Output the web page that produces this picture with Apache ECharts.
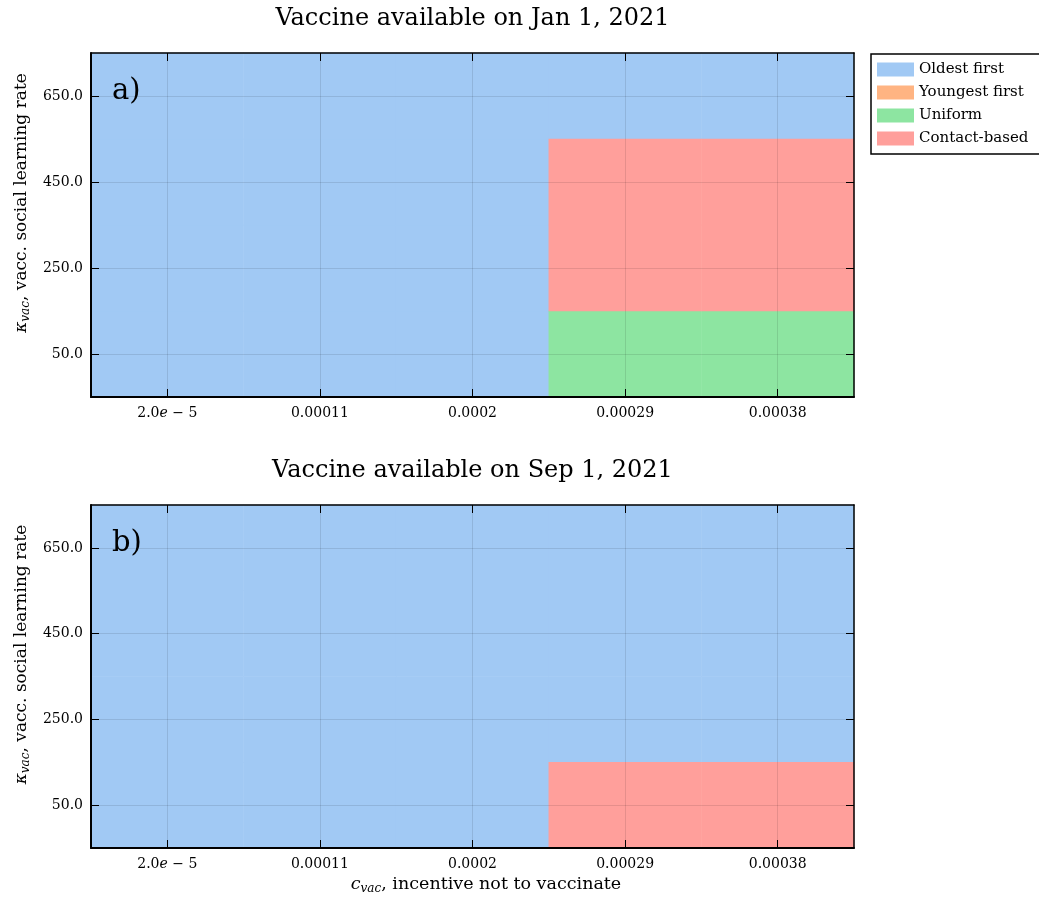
<!DOCTYPE html>
<html><head><meta charset="utf-8">
<script src="https://cdn.jsdelivr.net/npm/echarts@6/dist/echarts.min.js"></script>
<style>html,body{margin:0;padding:0;background:#fff}#c{width:1039px;height:908px}</style>
</head><body><div id="c"></div>
<script>
const xCats = ['2.0e-5','0.00011','0.0002','0.00029','0.00038'];
const yCats = ['50.0','250.0','450.0','650.0'];
const strategies = ['Oldest first','Youngest first','Uniform','Contact-based'];
const strategyColors = ['#a1c9f4','#ffb482','#8de5a1','#ff9f9b'];
const panelTitles = ['Vaccine available on Jan 1, 2021','Vaccine available on Sep 1, 2021'];
const panelLetters = ['a)','b)'];
// best strategy index; rows follow yCats (bottom to top), columns follow xCats
const panelA = [[0,0,0,2,2],[0,0,0,3,3],[0,0,0,3,3],[0,0,0,0,0]];
const panelB = [[0,0,0,3,3],[0,0,0,0,0],[0,0,0,0,0],[0,0,0,0,0]];
const panels = [panelA, panelB];

const FONT = 'DejaVu Serif';
const grids = [
  {left: 91, top: 53, width: 763, height: 344},
  {left: 91, top: 505, width: 763, height: 343}
];

const xAxes = [], yAxes = [], series = [], graphics = [];
grids.forEach((g, p) => {
  const last = p === grids.length - 1;
  xAxes.push({
    type: 'category', data: xCats, gridIndex: p, position: 'bottom', z: 10,
    axisLine: {show: true, lineStyle: {color: '#000', width: 2}},
    axisTick: {show: true, inside: true, length: 8, alignWithLabel: true, lineStyle: {color: '#000', width: 1}},
    axisLabel: {
      margin: 9, color: '#000', fontFamily: FONT, fontSize: 14,
      formatter: v => v.indexOf('e-') >= 0 ? v.replace('e-', '{i|e} − ') : v,
      rich: {i: {fontStyle: 'italic', fontFamily: FONT, fontSize: 14, color: '#000'}}
    },
    splitLine: {show: false},
    name: last ? '{c|c}{s|vac}{n|, incentive not to vaccinate}' : '',
    nameLocation: 'middle', nameGap: 26,
    nameTextStyle: {
      fontFamily: FONT, fontSize: 17.5, color: '#000', padding: [0, 0, 0, 27],
      rich: {
        c: {fontFamily: FONT, fontSize: 17.5, fontStyle: 'italic', color: '#000', lineHeight: 21},
        s: {fontFamily: FONT, fontSize: 12, fontStyle: 'italic', color: '#000', lineHeight: 8, verticalAlign: 'bottom'},
        n: {fontFamily: FONT, fontSize: 17.5, color: '#000', lineHeight: 21}
      }
    }
  });
  xAxes.push({
    type: 'category', data: xCats, gridIndex: p, position: 'top', z: 10,
    axisLine: {show: true, lineStyle: {color: '#000', width: 1.5}},
    axisTick: {show: true, inside: true, length: 8, alignWithLabel: true, lineStyle: {color: '#000', width: 1}},
    axisLabel: {show: false}, splitLine: {show: false}
  });
  yAxes.push({
    type: 'category', data: yCats, gridIndex: p, position: 'left', z: 10,
    axisLine: {show: true, lineStyle: {color: '#000', width: 2}},
    axisTick: {show: true, inside: true, length: 8, alignWithLabel: true, lineStyle: {color: '#000', width: 1}},
    axisLabel: {margin: 8, color: '#000', fontFamily: FONT, fontSize: 14},
    splitLine: {show: false},
    name: '{k|κ}{s|vac}{n|, vacc. social learning rate}',
    nameLocation: 'middle', nameRotate: 90, nameGap: 56,
    nameTextStyle: {
      fontFamily: FONT, fontSize: 17, color: '#000', padding: [0, 0, 0, 44],
      rich: {
        k: {fontFamily: FONT, fontSize: 17, fontStyle: 'italic', color: '#000', lineHeight: 21},
        s: {fontFamily: FONT, fontSize: 12, fontStyle: 'italic', color: '#000', lineHeight: 8, verticalAlign: 'bottom'},
        n: {fontFamily: FONT, fontSize: 17, color: '#000', lineHeight: 21}
      }
    }
  });
  yAxes.push({
    type: 'category', data: yCats, gridIndex: p, position: 'right', z: 10,
    axisLine: {show: true, lineStyle: {color: '#000', width: 1.5}},
    axisTick: {show: true, inside: true, length: 8, alignWithLabel: true, lineStyle: {color: '#000', width: 1}},
    axisLabel: {show: false}, splitLine: {show: false}
  });

  const m = panels[p];
  strategies.forEach((name, s) => {
    const data = [];
    m.forEach((row, yi) => row.forEach((v, xi) => { if (v === s) data.push([xi, yi, 1]); }));
    const ser = {
      type: 'heatmap', name: name, xAxisIndex: 2 * p, yAxisIndex: 2 * p,
      data: data, itemStyle: {color: strategyColors[s]},
      emphasis: {disabled: true}, silent: true, progressive: 0
    };
    if (s === 0) {
      ser.markLine = {
        silent: true, symbol: 'none', animation: false,
        label: {show: false},
        lineStyle: {type: 'solid', color: 'rgba(0,0,0,0.1)', width: 1},
        emphasis: {disabled: true},
        data: xCats.map((c, i) => ({xAxis: i})).concat(yCats.map((c, i) => ({yAxis: i})))
      };
    }
    series.push(ser);
  });

  graphics.push({
    type: 'text', x: g.left + g.width / 2, y: g.top - 34,
    style: {text: panelTitles[p], fontFamily: FONT, fontSize: 24, fill: '#000', textAlign: 'center', textVerticalAlign: 'middle'}
  });
  graphics.push({
    type: 'text', x: g.left + 21, y: g.top + 38, z: 20,
    style: {text: panelLetters[p], fontFamily: FONT, fontSize: 29, fill: '#000', textAlign: 'left', textVerticalAlign: 'middle'}
  });
});

const chart = echarts.init(document.getElementById('c'), null, {renderer: 'canvas'});
chart.setOption({
  backgroundColor: '#fff',
  animation: false,
  grid: grids,
  xAxis: xAxes,
  yAxis: yAxes,
  legend: {
    data: strategies, orient: 'vertical', left: 871, top: 54,
    icon: 'rect', itemWidth: 37, itemHeight: 14, itemGap: 8,
    padding: [8, 20, 8, 6], borderColor: '#000', borderWidth: 1.5,
    textStyle: {fontFamily: FONT, fontSize: 15, lineHeight: 14, color: '#000', padding: [0, 0, 0, 0]},
    selectedMode: false
  },
  graphic: graphics,
  series: series
});
</script>
</body></html>
